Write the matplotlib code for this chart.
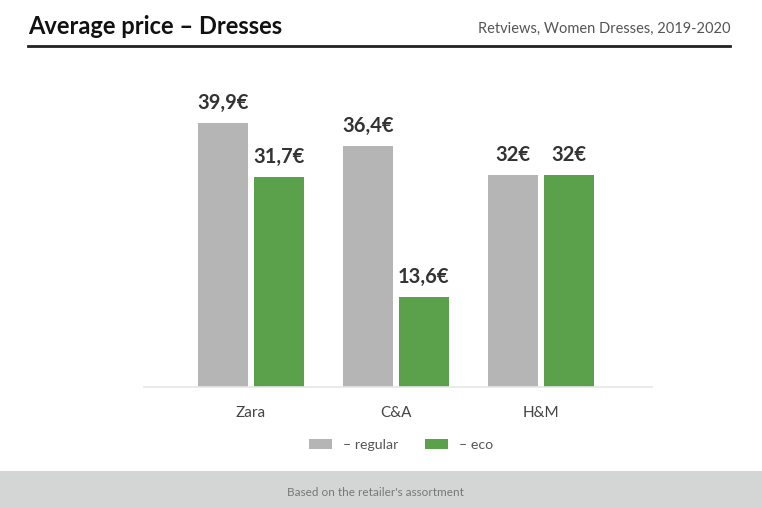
import matplotlib
matplotlib.use("Agg")
import matplotlib.pyplot as plt
from matplotlib.patches import Rectangle, Patch
from matplotlib.lines import Line2D
import numpy as np

plt.rcParams['font.family'] = ['Lato', 'DejaVu Sans']

# data
retailers = ["Zara", "C&A", "H&M"]
regular = [39.9, 36.4, 32.0]
eco = [31.7, 13.6, 32.0]

GRAY = "#b5b5b5"
GREEN = "#5ba04a"


def fmt(v):
    s = f"{v:.1f}".rstrip("0").rstrip(".")
    return s.replace(".", ",") + "€"


fig = plt.figure(figsize=(7.62, 5.08), dpi=100)

# header
fig.text(28 / 762, 1 - 27 / 508, "Average price – Dresses", fontsize=17,
         fontweight="bold", color="#111111", va="center", ha="left")
fig.text(730 / 762, 1 - 29 / 508, "Retviews, Women Dresses, 2019-2020", fontsize=10.5,
         color="#555555", va="center", ha="right")
fig.add_artist(Line2D([28 / 762, 730 / 762], [1 - 46 / 508, 1 - 46 / 508],
                      color="#222222", linewidth=2, transform=fig.transFigure))

# footer band
fig.add_artist(Rectangle((0, 0), 1, 37 / 508, transform=fig.transFigure,
                         facecolor="#d4d6d6", edgecolor="none", zorder=0))
fig.text(375 / 762, 15 / 508, "Based on the retailer's assortment", fontsize=8.5,
         color="#777777", ha="center", va="center")

# bars
ax = fig.add_axes([144 / 762, 121 / 508, 508 / 762, 331 / 508])
x = np.arange(len(retailers))
w = 0.345
off = 0.193
b1 = ax.bar(x - off, regular, w, color=GRAY)
b2 = ax.bar(x + off, eco, w, color=GREEN)

for bars, vals in ((b1, regular), (b2, eco)):
    for bar, v in zip(bars, vals):
        ax.text(bar.get_x() + bar.get_width() / 2, v + 1.5, fmt(v),
                ha="center", va="bottom", fontsize=14.5, fontweight="bold",
                color="#333333")

ax.set_xlim(-0.738, 2.766)
ax.set_ylim(0, 50)
ax.set_xticks(x)
ax.set_xticklabels(retailers, fontsize=11, color="#444444")
ax.tick_params(axis="x", length=0, pad=14)
ax.set_yticks([])
for s in ["top", "right", "left"]:
    ax.spines[s].set_visible(False)
ax.spines["bottom"].set_color("#e6e6e6")
ax.spines["bottom"].set_linewidth(1.2)

handles = [Patch(facecolor=GRAY), Patch(facecolor=GREEN)]
fig.legend(handles, ["– regular", "– eco"], loc="center",
           bbox_to_anchor=(401 / 762, 1 - 445 / 508), ncol=2, frameon=False,
           fontsize=10.2, handlelength=1.6, handleheight=0.75, columnspacing=1.9,
           handletextpad=0.8, labelcolor="#555555")

fig.savefig("out.png", dpi=100)
